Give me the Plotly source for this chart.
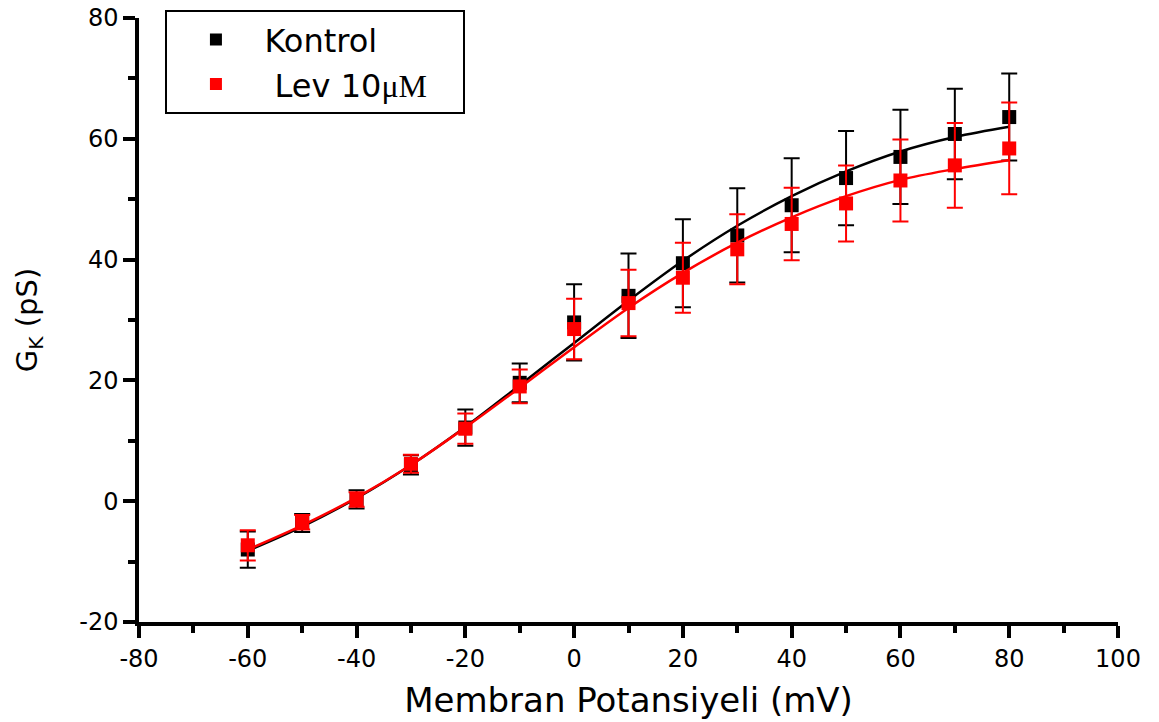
import plotly.graph_objects as go

voltage = [-60, -50, -40, -30, -20, -10, 0, 10, 20, 30, 40, 50, 60, 70, 80]

kontrol_mean = [-8.0, -3.6, 0.3, 6.0, 12.2, 19.6, 29.6, 34.0, 39.4, 44.0, 49.0, 53.5, 57.0, 60.8, 63.6]
kontrol_err = [3.0, 1.5, 1.5, 1.6, 3.0, 3.2, 6.3, 7.0, 7.3, 7.8, 7.8, 7.8, 7.8, 7.5, 7.2]

lev_mean = [-7.3, -3.5, 0.3, 6.2, 12.0, 19.0, 28.5, 32.8, 37.0, 41.7, 45.9, 49.3, 53.1, 55.6, 58.4]
lev_err = [2.5, 1.2, 1.2, 1.5, 2.5, 2.8, 5.0, 5.5, 5.8, 5.8, 6.0, 6.3, 6.8, 7.0, 7.6]

# fitted curves
kontrol_fit = [-8.2, -4.2, 0.5, 6.0, 12.3, 19.2, 26.2, 33.2, 39.8, 45.6, 50.5, 54.6, 57.9, 60.3, 62.0]
lev_fit = [-8.0, -4.0, 0.6, 6.0, 12.2, 18.8, 25.5, 32.0, 37.8, 42.8, 47.0, 50.5, 53.2, 55.0, 56.5]

x_ticks = [-80, -60, -40, -20, 0, 20, 40, 60, 80, 100]
x_ticktext = ["-80", "-60", "-40", "-20", "0", "20", "40", "60", "80", "100"]
y_ticks = [-20, 0, 20, 40, 60, 80]
y_ticktext = ["-20", "0", "20", "40", "60", "80"]

RED = "#ff0000"
BLACK = "#000000"
FONT = "DejaVu Sans, Liberation Sans, Arial"

fig = go.Figure()

fig.add_trace(go.Scatter(x=voltage, y=kontrol_fit, mode="lines", line=dict(color=BLACK, width=2.5, shape="spline"),
                         showlegend=False, hoverinfo="skip"))
fig.add_trace(go.Scatter(x=voltage, y=kontrol_mean, mode="markers", name="Kontrol",
                         marker=dict(symbol="square", size=14, color=BLACK),
                         error_y=dict(type="data", array=kontrol_err, color=BLACK, thickness=2, width=8)))
fig.add_trace(go.Scatter(x=voltage, y=lev_fit, mode="lines", line=dict(color=RED, width=2.5, shape="spline"),
                         showlegend=False, hoverinfo="skip"))
fig.add_trace(go.Scatter(x=voltage, y=lev_mean, mode="markers",
                         name=" Lev 10<span style='font-family:Liberation Serif, Times New Roman, serif'>μM</span>\u00a0\u00a0\u00a0",
                         marker=dict(symbol="square", size=14, color=RED),
                         error_y=dict(type="data", array=lev_err, color=RED, thickness=2, width=8)))

axis_common = dict(
    showline=True, linecolor=BLACK, linewidth=3.5, mirror=False,
    ticks="outside", ticklen=12, tickwidth=3.5, tickcolor=BLACK,
    showgrid=False, zeroline=False,
    tickfont=dict(family=FONT, size=24, color=BLACK),
)

fig.update_xaxes(range=[-80, 100], tickmode="array", tickvals=x_ticks, ticktext=x_ticktext,
                 minor=dict(tickmode="linear", tick0=-80, dtick=10, ticks="outside", ticklen=7, tickwidth=3.5, tickcolor=BLACK),
                 title=dict(text="Membran Potansiyeli (mV)", font=dict(family=FONT, size=34, color=BLACK), standoff=18),
                 **axis_common)
fig.update_yaxes(range=[-20, 80], tickmode="array", tickvals=y_ticks, ticktext=y_ticktext,
                 minor=dict(tickmode="linear", tick0=-20, dtick=10, ticks="outside", ticklen=7, tickwidth=3.5, tickcolor=BLACK),
                 title=dict(text="G<sub>K</sub> (pS)", font=dict(family=FONT, size=29, color=BLACK), standoff=34),
                 **axis_common)

fig.update_layout(
    width=1159, height=722,
    margin=dict(l=139, r=41, t=18, b=100, autoexpand=False),
    plot_bgcolor="white", paper_bgcolor="white",
    font=dict(family=FONT, color=BLACK),
    legend=dict(x=0.027, y=1.013, xanchor="left", yanchor="top",
                bordercolor=BLACK, borderwidth=2, bgcolor="white",
                font=dict(family=FONT, size=32, color=BLACK),
                itemsizing="constant", itemwidth=87, tracegroupgap=0),
)

fig.write_html("out.html")
